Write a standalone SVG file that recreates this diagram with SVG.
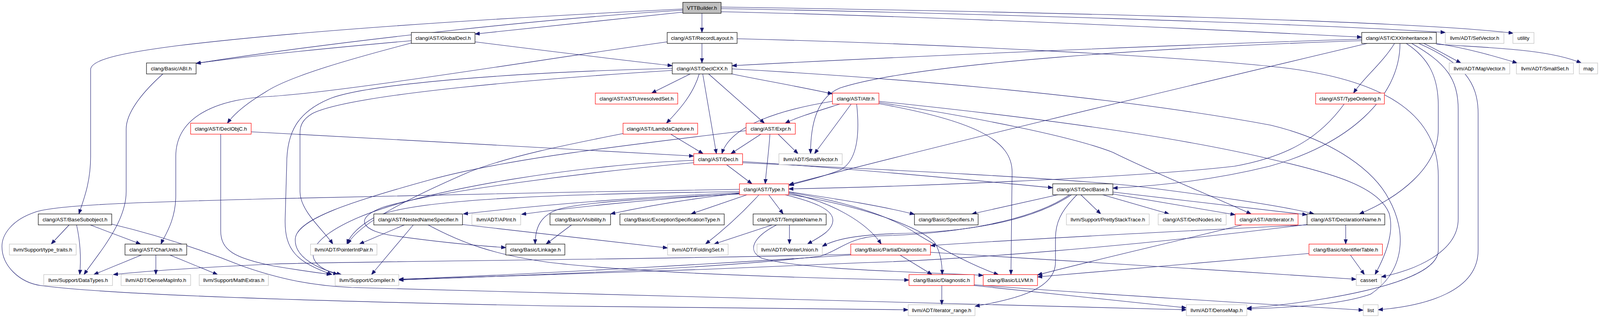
<svg xmlns="http://www.w3.org/2000/svg" width="4219" height="813" viewBox="0 0 4219 813">
<defs>
<marker id="ah" markerWidth="12" markerHeight="10" refX="12" refY="5" orient="auto" markerUnits="userSpaceOnUse">
<path d="M0,0.5 L12,5 L0,9.5 Z" fill="#191970" stroke="#191970" stroke-width="1"/>
</marker>
<style>
.e path{fill:none;stroke:#191970;stroke-width:1.1;marker-end:url(#ah)}
.node rect{fill:#ffffff;stroke:#000000;stroke-width:1.2}
.node.r rect{stroke:#ff0000}
.node.g rect{stroke:#bfbfbf}
.node.root rect{fill:#bfbfbf}
.node text{font-family:"Liberation Sans",Arial,Helvetica,sans-serif;font-size:13.33px;text-anchor:middle;fill:#000000}
</style>
</defs>
<rect x="0" y="0" width="4219" height="813" fill="#ffffff"/>
<g id="edges" class="e">
<path d="M1797,34 L1797,83"/>
<path d="M1748,31 C1560,50 1380,70 1216,87"/>
<path d="M1748,26 C1420,46 900,100 502,162"/>
<path d="M1748,23 C1300,45 800,75 453,117 C330,133 232,150 232,178 L232,400 C232,470 212,515 202,547"/>
<path d="M1846,30 C2300,40 2900,65 3486,95"/>
<path d="M1846,22 C2400,32 3300,58 3700,83"/>
<path d="M1846,18 C2500,28 3600,50 3874,85"/>
<path d="M1053,104 C850,122 650,142 502,162"/>
<path d="M1053,110 C900,150 740,195 680,235 C630,265 600,290 582,315"/>
<path d="M1216,107 C1400,130 1600,155 1721,168"/>
<path d="M1797,111 L1797,161"/>
<path d="M1708,107 C1400,150 900,232 700,246 C550,252 450,300 450,400 L450,500 C450,565 420,605 412,624"/>
<path d="M1887,99 C2400,112 3050,145 3300,175 C3560,210 3682,300 3682,450 L3682,640 C3682,730 3350,775 3192,788"/>
<path d="M3486,100 C3000,115 2300,145 1874,168"/>
<path d="M3486,104 C3000,120 2350,160 2150,225 C2090,250 2075,320 2075,393"/>
<path d="M3500,111 C3000,230 2450,360 2020,472"/>
<path d="M3570,111 C3540,160 3490,200 3465,238"/>
<path d="M3584,111 C3584,250 3450,370 3250,425 C3100,462 2950,476 2849,481"/>
<path d="M3600,111 C3660,150 3682,200 3682,270 L3682,330 C3682,430 3580,505 3480,547"/>
<path d="M3614,111 C3700,160 3733,200 3733,280 L3733,560 C3733,645 3620,692 3536,708"/>
<path d="M3632,111 C3745,160 3784,210 3784,290 L3784,640 C3784,745 3650,782 3528,792"/>
<path d="M3645,111 C3680,128 3715,148 3740,161"/>
<path d="M3677,111 C3760,124 3830,145 3884,161"/>
<path d="M3677,113 C3800,122 3960,124 4048,161"/>
<path d="M417,189 C360,240 323,290 323,330 L323,490 C323,570 250,650 215,702"/>
<path d="M1767,189 L1668,238"/>
<path d="M1790,189 C1775,240 1740,280 1706,315"/>
<path d="M1799,189 L1834,393"/>
<path d="M1814,189 L1957,315"/>
<path d="M1873,189 C1950,205 2050,222 2131,240"/>
<path d="M1721,180 C1400,200 900,240 800,290 C775,305 768,320 768,340 L768,490 C768,540 830,590 852,624"/>
<path d="M1721,175 C1300,185 950,215 850,250 C760,285 734,340 734,420 L730,560 C728,640 760,670 850,702"/>
<path d="M1874,176 C2300,200 2850,245 3253,320 C3420,360 3520,440 3556,510 C3600,590 3600,690 3509,752 C3430,780 3300,786 3192,790"/>
<path d="M2131,259 C2000,280 1870,320 1848,393"/>
<path d="M2150,266 C2090,285 2040,300 2010,315"/>
<path d="M2179,266 L2085,393"/>
<path d="M2193,266 C2200,330 2200,410 2150,435 C2100,455 2050,465 2020,474"/>
<path d="M2250,262 C2500,300 2750,350 2850,390 C2950,440 3100,500 3203,547"/>
<path d="M2250,265 C2500,310 2591,360 2591,440 L2588,702"/>
<path d="M2250,259 C2600,295 3000,345 3266,410 C3420,445 3530,480 3556,545 C3572,600 3540,665 3520,702"/>
<path d="M3441,266 C3380,350 3300,400 3160,425 C2900,455 2300,478 2019,483"/>
<path d="M643,337 C1000,355 1500,385 1776,399"/>
<path d="M565,343 L565,590 C565,640 600,660 700,680 C760,690 810,697 848,702"/>
<path d="M1717,343 L1800,393"/>
<path d="M1597,341 C1450,370 1300,400 1200,440 C1050,505 920,570 890,624"/>
<path d="M1948,343 L1871,393"/>
<path d="M1971,343 C1968,390 1962,430 1959,470"/>
<path d="M1992,343 L2043,393"/>
<path d="M1910,334 C1600,372 1300,405 1100,460 C900,515 760,560 756,610 C752,660 820,690 874,702"/>
<path d="M1860,421 L1925,470"/>
<path d="M1901,413 C2200,432 2500,462 2695,480"/>
<path d="M1901,416 C2300,435 2700,455 2900,475 C3100,500 3280,525 3364,547"/>
<path d="M1776,410 C1500,420 1100,480 920,555 C790,610 760,670 865,702"/>
<path d="M1776,416 C1500,440 1100,492 980,530 C900,560 930,592 1010,603 C1110,617 1220,628 1295,633"/>
<path d="M1893,484 C1500,490 1000,500 700,508 C400,516 150,522 91,542 C30,562 5,600 5,630 C5,680 50,722 104,730 C300,756 900,772 1400,782 C1800,788 2100,790 2325,792"/>
<path d="M1893,490 C1500,495 1060,505 960,555 C915,580 895,605 888,624"/>
<path d="M1893,493 C1600,505 1350,528 1186,547"/>
<path d="M1893,495 C1650,510 1450,532 1335,548"/>
<path d="M1893,496 C1700,505 1500,515 1430,535 C1385,550 1370,580 1370,624"/>
<path d="M1893,494 C1750,510 1650,528 1563,547"/>
<path d="M1912,498 L1769,547"/>
<path d="M1943,498 C1900,545 1850,590 1806,624"/>
<path d="M1968,498 L2005,547"/>
<path d="M2019,490 C2150,510 2250,525 2341,548"/>
<path d="M2019,494 C2130,515 2220,570 2256,624"/>
<path d="M2019,497 C2200,525 2360,580 2394,622 C2410,650 2412,680 2412,702"/>
<path d="M2019,492 C2150,512 2280,550 2350,600 C2450,660 2520,690 2556,702"/>
<path d="M2010,498 C2080,515 2135,535 2132,565 C2130,590 2100,605 2067,624"/>
<path d="M2708,498 L2488,547"/>
<path d="M2767,498 L2818,547"/>
<path d="M2823,498 L2993,547"/>
<path d="M2849,496 L3162,549"/>
<path d="M2849,491 L3346,549"/>
<path d="M2757,498 C2715,540 2702,570 2702,610 L2702,670 C2702,740 2600,765 2496,783"/>
<path d="M2743,498 C2650,560 2500,592 2300,597 C2200,600 2140,610 2105,630"/>
<path d="M2738,498 C2640,565 2450,598 2250,603 C2170,608 2150,640 2100,655 C1800,690 1300,705 1021,716"/>
<path d="M177,575 L131,624"/>
<path d="M196,575 C206,620 208,660 204,702"/>
<path d="M231,575 L360,624"/>
<path d="M286,573 C400,600 520,640 620,680 C720,715 800,730 900,735 C1500,752 2400,775 3037,792"/>
<path d="M1035,575 L920,624"/>
<path d="M1058,575 L951,702"/>
<path d="M1096,575 C1180,620 1260,650 1400,670 C1600,695 2000,710 2327,716"/>
<path d="M1184,574 C1400,598 1600,620 1709,634"/>
<path d="M1463,575 L1398,624"/>
<path d="M1977,575 L1828,624"/>
<path d="M2021,575 L2021,624"/>
<path d="M1988,575 C1930,605 1910,640 1950,660 C2050,690 2350,695 2517,704"/>
<path d="M2304,652 L2386,702"/>
<path d="M2178,650 C1800,662 900,668 700,675 C550,682 380,692 290,702"/>
<path d="M2178,652 C1900,670 1400,700 1021,714"/>
<path d="M2382,645 C2700,662 3100,690 3472,714"/>
<path d="M2411,730 L2411,779"/>
<path d="M2494,730 C2700,752 2900,772 3037,787"/>
<path d="M2494,728 C2800,752 3200,775 3490,793"/>
<path d="M3445,575 L3445,624"/>
<path d="M3346,575 C3000,592 2600,612 2382,628"/>
<path d="M3346,574 C2900,630 2450,665 2200,672 C1800,690 1300,708 1021,715"/>
<path d="M3351,648 C3100,670 2850,693 2656,708"/>
<path d="M3457,652 L3493,702"/>
<path d="M3180,575 C3000,620 2800,665 2656,703"/>
<path d="M362,652 L240,702"/>
<path d="M399,652 L399,702"/>
<path d="M435,652 L557,702"/>
</g>
<g id="n_vtt" class="node root"><rect x="1748" y="6" width="98" height="28"/><text x="1797" y="24.7">VTTBuilder.h</text></g>
<g id="n_globaldecl" class="node"><rect x="1053" y="83" width="163" height="28"/><text x="1134.5" y="101.7">clang/AST/GlobalDecl.h</text></g>
<g id="n_recordlayout" class="node"><rect x="1708" y="83" width="179" height="28"/><text x="1797.5" y="101.7">clang/AST/RecordLayout.h</text></g>
<g id="n_cxxinheritance" class="node"><rect x="3486" y="83" width="191" height="28"/><text x="3581.5" y="101.7">clang/AST/CXXInheritance.h</text></g>
<g id="n_setvector" class="node g"><rect x="3700" y="83" width="150" height="28"/><text x="3775" y="101.7">llvm/ADT/SetVector.h</text></g>
<g id="n_utility" class="node g"><rect x="3873" y="83" width="54" height="28"/><text x="3900" y="101.7">utility</text></g>
<g id="n_abi" class="node"><rect x="375" y="161" width="127" height="28"/><text x="438.5" y="179.7">clang/Basic/ABI.h</text></g>
<g id="n_declcxx" class="node"><rect x="1721" y="161" width="153" height="28"/><text x="1797.5" y="179.7">clang/AST/DeclCXX.h</text></g>
<g id="n_mapvector" class="node g"><rect x="3710" y="161" width="155" height="28"/><text x="3787.5" y="179.7">llvm/ADT/MapVector.h</text></g>
<g id="n_smallset" class="node g"><rect x="3882" y="161" width="146" height="28"/><text x="3955" y="179.7">llvm/ADT/SmallSet.h</text></g>
<g id="n_map" class="node g"><rect x="4043" y="161" width="47" height="28"/><text x="4066.5" y="179.7">map</text></g>
<g id="n_astunresolvedset" class="node r"><rect x="1524" y="238" width="211" height="28"/><text x="1629.5" y="256.7">clang/AST/ASTUnresolvedSet.h</text></g>
<g id="n_attr" class="node r"><rect x="2131" y="238" width="119" height="28"/><text x="2190.5" y="256.7">clang/AST/Attr.h</text></g>
<g id="n_typeordering" class="node r"><rect x="3368" y="238" width="176" height="28"/><text x="3456" y="256.7">clang/AST/TypeOrdering.h</text></g>
<g id="n_declobjc" class="node r"><rect x="488" y="315" width="155" height="28"/><text x="565.5" y="333.7">clang/AST/DeclObjC.h</text></g>
<g id="n_lambdacapture" class="node r"><rect x="1595" y="315" width="191" height="28"/><text x="1690.5" y="333.7">clang/AST/LambdaCapture.h</text></g>
<g id="n_expr" class="node r"><rect x="1910" y="315" width="126" height="28"/><text x="1973" y="333.7">clang/AST/Expr.h</text></g>
<g id="n_decl" class="node r"><rect x="1776" y="393" width="125" height="28"/><text x="1838.5" y="411.7">clang/AST/Decl.h</text></g>
<g id="n_smallvector" class="node g"><rect x="1994" y="393" width="162" height="28"/><text x="2075" y="411.7">llvm/ADT/SmallVector.h</text></g>
<g id="n_type" class="node r"><rect x="1893" y="470" width="126" height="28"/><text x="1956" y="488.7">clang/AST/Type.h</text></g>
<g id="n_declbase" class="node"><rect x="2695" y="470" width="154" height="28"/><text x="2772" y="488.7">clang/AST/DeclBase.h</text></g>
<g id="n_basesubobject" class="node"><rect x="98" y="547" width="188" height="28"/><text x="192" y="565.7">clang/AST/BaseSubobject.h</text></g>
<g id="n_nestednamespecifier" class="node"><rect x="957" y="547" width="227" height="28"/><text x="1070.5" y="565.7">clang/AST/NestedNameSpecifier.h</text></g>
<g id="n_apint" class="node g"><rect x="1208" y="547" width="125" height="28"/><text x="1270.5" y="565.7">llvm/ADT/APInt.h</text></g>
<g id="n_visibility" class="node"><rect x="1408" y="547" width="155" height="28"/><text x="1485.5" y="565.7">clang/Basic/Visibility.h</text></g>
<g id="n_exceptionspec" class="node"><rect x="1587" y="547" width="267" height="28"/><text x="1720.5" y="565.7">clang/Basic/ExceptionSpecificationType.h</text></g>
<g id="n_templatename" class="node"><rect x="1928" y="547" width="187" height="28"/><text x="2021.5" y="565.7">clang/AST/TemplateName.h</text></g>
<g id="n_specifiers" class="node"><rect x="2341" y="547" width="163" height="28"/><text x="2422.5" y="565.7">clang/Basic/Specifiers.h</text></g>
<g id="n_prettystacktrace" class="node g"><rect x="2730" y="547" width="212" height="28"/><text x="2836" y="565.7">llvm/Support/PrettyStackTrace.h</text></g>
<g id="n_declnodes" class="node g"><rect x="2965" y="547" width="174" height="28"/><text x="3052" y="565.7">clang/AST/DeclNodes.inc</text></g>
<g id="n_attriterator" class="node r"><rect x="3162" y="547" width="161" height="28"/><text x="3242.5" y="565.7">clang/AST/AttrIterator.h</text></g>
<g id="n_declarationname" class="node"><rect x="3346" y="547" width="199" height="28"/><text x="3445.5" y="565.7">clang/AST/DeclarationName.h</text></g>
<g id="n_typetraits" class="node g"><rect x="24" y="624" width="171" height="28"/><text x="109.5" y="642.7">llvm/Support/type_traits.h</text></g>
<g id="n_charunits" class="node"><rect x="320" y="624" width="158" height="28"/><text x="399" y="642.7">clang/AST/CharUnits.h</text></g>
<g id="n_pointerintpair" class="node g"><rect x="795" y="624" width="170" height="28"/><text x="880" y="642.7">llvm/ADT/PointerIntPair.h</text></g>
<g id="n_linkage" class="node"><rect x="1295" y="624" width="151" height="28"/><text x="1370.5" y="642.7">clang/Basic/Linkage.h</text></g>
<g id="n_foldingset" class="node g"><rect x="1709" y="624" width="155" height="28"/><text x="1786.5" y="642.7">llvm/ADT/FoldingSet.h</text></g>
<g id="n_pointerunion" class="node g"><rect x="1938" y="624" width="167" height="28"/><text x="2021.5" y="642.7">llvm/ADT/PointerUnion.h</text></g>
<g id="n_partialdiagnostic" class="node r"><rect x="2178" y="624" width="204" height="28"/><text x="2280" y="642.7">clang/Basic/PartialDiagnostic.h</text></g>
<g id="n_identifiertable" class="node r"><rect x="3351" y="624" width="188" height="28"/><text x="3445" y="642.7">clang/Basic/IdentifierTable.h</text></g>
<g id="n_datatypes" class="node g"><rect x="112" y="702" width="176" height="28"/><text x="200" y="720.7">llvm/Support/DataTypes.h</text></g>
<g id="n_densemapinfo" class="node g"><rect x="310" y="702" width="178" height="28"/><text x="399" y="720.7">llvm/ADT/DenseMapInfo.h</text></g>
<g id="n_mathextras" class="node g"><rect x="510" y="702" width="177" height="28"/><text x="598.5" y="720.7">llvm/Support/MathExtras.h</text></g>
<g id="n_compiler" class="node g"><rect x="858" y="702" width="163" height="28"/><text x="939.5" y="720.7">llvm/Support/Compiler.h</text></g>
<g id="n_diagnostic" class="node r"><rect x="2327" y="702" width="167" height="28"/><text x="2410.5" y="720.7">clang/Basic/Diagnostic.h</text></g>
<g id="n_llvm" class="node r"><rect x="2517" y="702" width="139" height="28"/><text x="2586.5" y="720.7">clang/Basic/LLVM.h</text></g>
<g id="n_cassert" class="node g"><rect x="3472" y="702" width="64" height="28"/><text x="3504" y="720.7">cassert</text></g>
<g id="n_iteratorrange" class="node g"><rect x="2325" y="779" width="171" height="28"/><text x="2410.5" y="797.7">llvm/ADT/iterator_range.h</text></g>
<g id="n_densemap" class="node g"><rect x="3037" y="779" width="155" height="28"/><text x="3114.5" y="797.7">llvm/ADT/DenseMap.h</text></g>
<g id="n_list" class="node g"><rect x="3490" y="779" width="38" height="28"/><text x="3509" y="797.7">list</text></g>
</svg>
